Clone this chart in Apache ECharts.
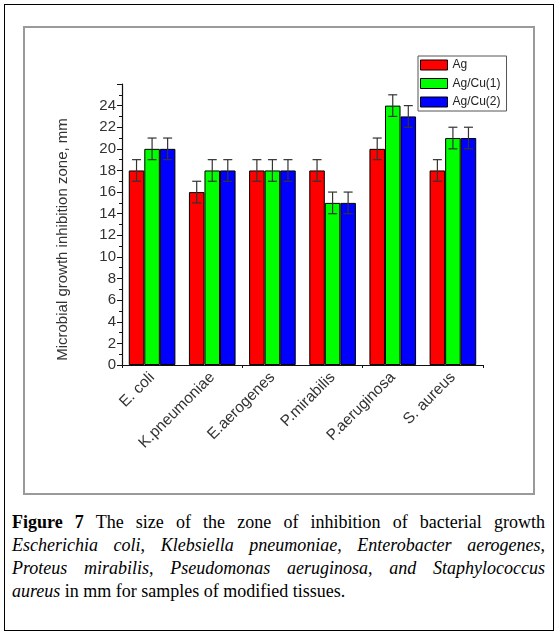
<!DOCTYPE html>
<html>
<head>
<meta charset="utf-8">
<script src="https://cdn.jsdelivr.net/npm/echarts@6/dist/echarts.min.js"></script>
<style>
  html, body { margin: 0; padding: 0; background: #fff; }
  #wrap { position: relative; width: 558px; height: 636px; overflow: hidden; }
  #outer { position: absolute; left: 4px; top: 4px; width: 548px; height: 625px; border: 1.5px solid #000; }
  #inner { position: absolute; left: 23px; top: 26px; width: 508px; height: 465px; border: 2px solid #9a9a9a; }
  #chart { position: absolute; left: 0; top: 0; width: 558px; height: 500px; }
  #caption { position: absolute; left: 12px; top: 511px; width: 533px; font-family: "Liberation Serif", "Times New Roman", serif; font-size: 18px; line-height: 23px; color: #000; }
  #caption .j { text-align: justify; text-align-last: justify; white-space: nowrap; }
  #caption .l { text-align: left; white-space: nowrap; }
</style>
</head>
<body>
<div id="wrap">
  <div id="outer"></div>
  <div id="inner"></div>
  <div id="chart"></div>
  <div id="caption">
    <div class="j"><b>Figure 7</b> The size of the zone of inhibition of bacterial growth</div>
    <div class="j"><i>Escherichia coli</i>, <i>Klebsiella pneumoniae, Enterobacter aerogenes</i>,</div>
    <div class="j"><i>Proteus mirabilis</i>, <i>Pseudomonas aeruginosa, and Staphylococcus</i></div>
    <div class="l"><i>aureus</i> in mm for samples of modified tissues.</div>
  </div>
</div>
<script>
const categories = ["E. coli", "K.pneumoniae", "E.aerogenes", "P.mirabilis", "P.aeruginosa", "S. aureus"];
const seriesNames = ["Ag", "Ag/Cu(1)", "Ag/Cu(2)"];
const agValues = [18, 16, 18, 18, 20, 18];
const agCu1Values = [20, 18, 18, 15, 24, 21];
const agCu2Values = [20, 18, 18, 15, 23, 21];
const agErrors = [1, 1, 1, 1, 1, 1];
const agCu1Errors = [1, 1, 1, 1, 1, 1];
const agCu2Errors = [1, 1, 1, 1, 1, 1];
const yTicks = [0, 2, 4, 6, 8, 10, 12, 14, 16, 18, 20, 22, 24];

const colors = ["#ff0000", "#00ff00", "#0000ff"];
const valueSets = [agValues, agCu1Values, agCu2Values];
const errorSets = [agErrors, agCu1Errors, agCu2Errors];
const gapRatio = 0.225;

const chart = echarts.init(document.getElementById('chart'), null, { renderer: 'canvas' });

const barSeries = valueSets.map((vals, k) => ({
  name: seriesNames[k],
  type: 'bar',
  xAxisIndex: 0,
  data: vals,
  barGap: '0%',
  barCategoryGap: (gapRatio * 100) + '%',
  itemStyle: { color: colors[k], borderColor: '#000', borderWidth: 1 },
  emphasis: { disabled: true },
  z: 2
}));

const errSeries = valueSets.map((vals, k) => ({
  name: seriesNames[k] + ' err',
  type: 'custom',
  xAxisIndex: 0,
  data: vals.map((v, i) => [i, v, errorSets[k][i]]),
  encode: { x: 0, y: 1 },
  z: 5,
  silent: true,
  renderItem: function (params, api) {
    const cat = api.value(0), val = api.value(1), err = api.value(2);
    const band = api.size([1, 0])[0];
    const bw = band * (1 - gapRatio) / 3;
    const c = api.coord([cat, val]);
    const x = c[0] + (k - 1) * bw;
    const yt = api.coord([cat, val + err])[1];
    const yb = api.coord([cat, val - err])[1];
    const cap = 4.5;
    const st = { stroke: '#333', lineWidth: 1.2 };
    return {
      type: 'group',
      children: [
        { type: 'line', shape: { x1: x, y1: yt, x2: x, y2: yb }, style: st },
        { type: 'line', shape: { x1: x - cap, y1: yt, x2: x + cap, y2: yt }, style: st },
        { type: 'line', shape: { x1: x - cap, y1: yb, x2: x + cap, y2: yb }, style: st }
      ]
    };
  }
}));

chart.setOption({
  animation: false,
  backgroundColor: 'transparent',
  grid: { left: 122, right: 75, top: 84, bottom: 135, containLabel: false },
  legend: {
    data: seriesNames,
    orient: 'vertical',
    left: 418,
    top: 56,
    padding: [3, 6, 3, 2],
    itemGap: 6.5,
    itemWidth: 27,
    itemHeight: 10,
    icon: 'rect',
    borderColor: '#555',
    borderWidth: 1,
    backgroundColor: '#fff',
    selectedMode: false,
    itemStyle: { borderColor: '#000', borderWidth: 1 },
    textStyle: { fontFamily: 'Liberation Sans, Arial', fontSize: 12, color: '#222' }
  },
  xAxis: [
    {
      type: 'category',
      data: categories,
      axisLine: { lineStyle: { color: '#111', width: 1.2 } },
      axisTick: { alignWithLabel: true, length: 5, lineStyle: { color: '#111' } },
      axisLabel: { rotate: 45, fontFamily: 'Liberation Sans, Arial', fontSize: 15.5, color: '#333', margin: 10 },
      splitLine: { show: false }
    },
    {
      type: 'category',
      data: categories,
      position: 'bottom',
      axisLine: { show: false },
      axisTick: { show: true, length: 3, lineStyle: { color: '#111' } },
      axisLabel: { show: false },
      splitLine: { show: false }
    }
  ],
  yAxis: {
    type: 'value',
    min: 0,
    max: 26,
    interval: 2,
    name: 'Microbial growth inhibition zone, mm',
    nameLocation: 'middle',
    nameGap: 52,
    nameTextStyle: { fontFamily: 'Liberation Sans, Arial', fontSize: 15, color: '#333', padding: [0, 30, 0, 0] },
    axisLine: { show: true, lineStyle: { color: '#111', width: 1.2 } },
    axisTick: { show: true, length: 5, lineStyle: { color: '#111' } },
    minorTick: { show: true, splitNumber: 2, length: 3, lineStyle: { color: '#111' } },
    axisLabel: {
      fontFamily: 'Liberation Sans, Arial', fontSize: 15, color: '#333', margin: 6,
      formatter: function (v) { return yTicks.indexOf(v) >= 0 ? String(v) : ''; }
    },
    splitLine: { show: false }
  },
  series: barSeries.concat(errSeries)
});
</script>
</body>
</html>
